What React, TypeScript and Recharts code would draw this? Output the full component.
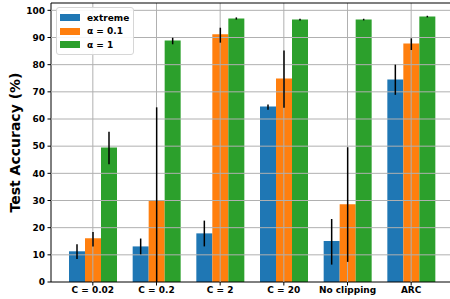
import React from 'react';
import { BarChart, Bar, XAxis, YAxis, ErrorBar, ReferenceLine, Legend } from 'recharts';

const categories = ['C = 0.02', 'C = 0.2', 'C = 2', 'C = 20', 'No clipping', 'ARC'];
const extreme = [11.3, 13.1, 17.9, 64.6, 15.1, 74.5];
const extremeLow = [8.5, 10.2, 13.1, 63.4, 6.4, 68.9];
const extremeHigh = [13.9, 16.0, 22.6, 65.3, 23.2, 80.0];
const alpha01 = [16.1, 29.8, 91.2, 74.9, 28.6, 87.8];
const alpha01Low = [13.1, 0, 88.1, 64.1, 7.4, 85.4];
const alpha01High = [18.4, 64.3, 93.6, 85.2, 49.6, 89.7];
const alpha1 = [49.5, 88.9, 97.0, 96.6, 96.6, 97.7];
const alpha1Low = [43.3, 87.5, 96.6, 96.3, 96.3, 97.4];
const alpha1High = [55.3, 89.9, 97.4, 96.9, 96.9, 98.0];
const yTicks = [0, 10, 20, 30, 40, 50, 60, 70, 80, 90, 100];

const series = [
  { key: 'extreme', name: 'extreme', color: '#1f77b4' },
  { key: 'a01', name: 'α = 0.1', color: '#ff7f0e' },
  { key: 'a1', name: 'α = 1', color: '#2ca02c' },
];

const data = categories.map((c, i) => ({
  cat: c,
  extreme: extreme[i],
  extremeErr: [extreme[i] - extremeLow[i], extremeHigh[i] - extreme[i]],
  a01: alpha01[i],
  a01Err: [alpha01[i] - alpha01Low[i], alpha01High[i] - alpha01[i]],
  a1: alpha1[i],
  a1Err: [alpha1[i] - alpha1Low[i], alpha1High[i] - alpha1[i]],
}));

const FONT = '"DejaVu Sans", sans-serif';
const GRID = '#b0b0b0';
const YMAX = 102.7;

const LegendBox = () => (
  <div
    style={{
      border: '1px solid #d6d6d6',
      borderRadius: 3,
      background: 'rgba(255,255,255,0.9)',
      padding: '3px 3px 2px 3px',
      fontFamily: FONT,
      fontWeight: 'bold',
      fontSize: 9,
      color: '#000',
      boxSizing: 'border-box',
    }}
  >
    {series.map((s) => (
      <div key={s.key} style={{ display: 'flex', alignItems: 'center', height: 13.6 }}>
        <div style={{ width: 20, height: 7, background: s.color, marginRight: 7 }} />
        <span>{s.name}</span>
      </div>
    ))}
  </div>
);

export default function App() {
  return (
    <div style={{ position: 'absolute', left: 0, top: 0, width: 450, height: 299, overflow: 'hidden', background: '#fff' }}>
      <BarChart
        width={460}
        height={299}
        data={data}
        margin={{ top: 3, right: 7, left: 0, bottom: 0 }}
        barGap={0}
        barSize={16}
      >
        <XAxis
          dataKey="cat"
          height={17}
          padding={{ left: 10, right: 10 }}
          tickSize={3.5}
          tickMargin={1.5}
          stroke="#000"
          tickLine={{ stroke: '#000' }}
          axisLine={{ stroke: '#000' }}
          tick={{ fontSize: 9, fontWeight: 'bold', fill: '#000', fontFamily: FONT }}
          interval={0}
        />
        <YAxis
          width={51}
          domain={[0, YMAX]}
          ticks={yTicks}
          allowDataOverflow
          tickSize={3.5}
          tickMargin={2.5}
          stroke="#000"
          tick={{ fontSize: 9, fontWeight: 'bold', fill: '#000', fontFamily: FONT }}
          label={{
            value: 'Test Accuracy (%)',
            angle: -90,
            position: 'insideLeft',
            offset: 0,
            dx: 15,
            style: { fontSize: 14, fontWeight: 'bold', fill: '#000', fontFamily: FONT, textAnchor: 'middle' },
          }}
        />
        {series.map((s) => (
          <Bar key={s.key} dataKey={s.key} name={s.name} fill={s.color} isAnimationActive={false}>
            <ErrorBar dataKey={s.key + 'Err'} width={0} stroke="#000" strokeWidth={1.5} direction="y" zIndex={800} />
          </Bar>
        ))}
        {yTicks.slice(1).map((t) => (
          <ReferenceLine key={'y' + t} y={t} stroke={GRID} strokeWidth={1} zIndex={700} />
        ))}
        {categories.map((c) => (
          <ReferenceLine key={'x' + c} x={c} stroke={GRID} strokeWidth={1} zIndex={700} />
        ))}
        <ReferenceLine y={YMAX} stroke="#000" strokeWidth={1.2} ifOverflow="visible" zIndex={900} />
        <Legend
          layout="vertical"
          align="center"
          verticalAlign="middle"
          content={<LegendBox />}
          wrapperStyle={{ left: 56, top: 7, width: 78, height: 45 }}
        />
      </BarChart>
    </div>
  );
}
